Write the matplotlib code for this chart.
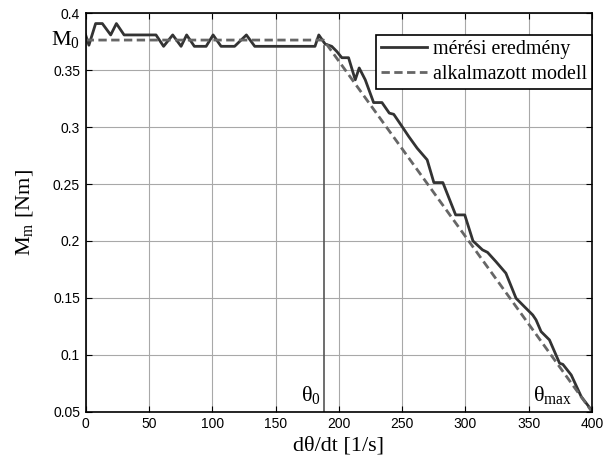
import matplotlib
matplotlib.use("Agg")
import matplotlib.pyplot as plt

# measured data (mérési eredmény)
meas_x = [0, 2.6, 7.9, 13.2, 19.8, 24.3, 30.4, 55.6, 61.6, 68.8, 75.4, 79.8, 85.9, 95.2,
          100.7, 107, 117.7, 127, 133.6, 181.2, 184.2, 189.2, 194.4, 198.4, 202.4, 207.7,
          213, 216.1, 220.9, 227.5, 234.1, 239.9, 243.4, 250, 255.3, 261.9, 269.8, 275.1,
          282.2, 292.3, 299.5, 306, 313.5, 317.5, 324.1, 332, 340, 346.6, 353.2, 355.8,
          359.8, 366.4, 374.4, 377, 383.6, 391.5, 399.5]
meas_y = [0.381, 0.372, 0.391, 0.391, 0.381, 0.391, 0.381, 0.381, 0.371, 0.381, 0.371, 0.381,
          0.371, 0.371, 0.381, 0.371, 0.371, 0.381, 0.371, 0.371, 0.381, 0.373, 0.371, 0.3665,
          0.361, 0.361, 0.3416, 0.352, 0.3416, 0.3216, 0.3216, 0.3123, 0.3113, 0.3005, 0.2917,
          0.2815, 0.2713, 0.2513, 0.2513, 0.2229, 0.2229, 0.2, 0.1922, 0.19, 0.1819, 0.1717,
          0.1497, 0.1423, 0.135, 0.1307, 0.1204, 0.1131, 0.0926, 0.0916, 0.0823, 0.0633, 0.0516]

# model (alkalmazott modell)
model_x = [0, 188, 400]
model_y = [0.3765, 0.3765, 0.05]

theta0 = 188
theta0_top = 0.371

xticks = [0, 50, 100, 150, 200, 250, 300, 350, 400]
yticks = [0.05, 0.1, 0.15, 0.2, 0.25, 0.3, 0.35, 0.4]
ytick_labels = ["0.05", "0.1", "0.15", "0.2", "0.25", "0.3", "0.35", "0.4"]

serif = "Liberation Serif"
sans = "Liberation Sans"

fig = plt.figure(figsize=(6.16, 4.59), dpi=100)
ax = fig.add_axes([0.139, 0.103, 0.822, 0.868])

ax.grid(True, color="#a8a8a8", linewidth=0.8, linestyle="-")
ax.set_axisbelow(True)

ax.plot([theta0, theta0], [0.05, theta0_top], color="#555555", linewidth=1.2)
l1, = ax.plot(meas_x, meas_y, color="#333333", linewidth=2.0, label="mérési eredmény")
l2, = ax.plot(model_x, model_y, color="#666666", linewidth=2.0, linestyle=(0, (3, 1.6)),
              label="alkalmazott modell")

ax.set_xlim(0, 400)
ax.set_ylim(0.05, 0.4)
ax.set_xticks(xticks)
ax.set_yticks(yticks)
ax.set_yticklabels(ytick_labels)
ax.tick_params(direction="in", top=True, right=True, length=4, width=0.8,
               labelsize=10, pad=4)
for lab in ax.get_xticklabels() + ax.get_yticklabels():
    lab.set_fontfamily(sans)
for s in ax.spines.values():
    s.set_linewidth(1.2)

ax.set_xlabel("dθ/dt [1/s]", fontfamily=serif, fontsize=16, labelpad=4)
ax.set_ylabel(r"M$_\mathregular{m}$ [Nm]", fontfamily=serif, fontsize=16, labelpad=12)

ax.text(-0.068, 0.3765, r"M$_\mathregular{0}$", transform=ax.get_yaxis_transform(),
        fontfamily=serif, fontsize=16, ha="left", va="center")
ax.text(178, 0.064, r"θ$_\mathregular{0}$", fontfamily=serif, fontsize=16, ha="center", va="center")
ax.text(369, 0.064, r"θ$_\mathregular{max}$", fontfamily=serif, fontsize=16, ha="center", va="center")

leg = ax.legend(handles=[l1, l2], loc="upper right", bbox_to_anchor=(1.0, 0.945),
                prop={"family": serif, "size": 14.4}, frameon=True, fancybox=False,
                edgecolor="black", framealpha=1, handlelength=2.3, borderpad=0.25,
                labelspacing=0.28, handletextpad=0.3, borderaxespad=0)
leg.get_frame().set_linewidth(1.2)

fig.savefig("out.png", dpi=100)
